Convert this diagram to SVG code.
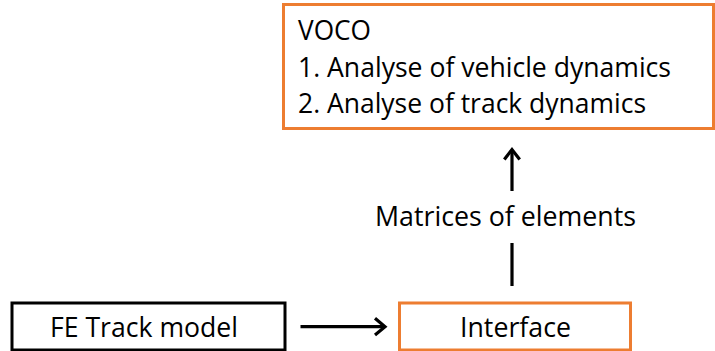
<svg xmlns="http://www.w3.org/2000/svg" width="715" height="351" viewBox="0 0 715 351">
<style>
.box{fill:#fff;stroke-width:3}
.org{stroke:#ED7D31}
.blk{stroke:#000}
text{font-family:"Open Sans","Liberation Sans",sans-serif;font-size:26.5px;fill:#000}
.con{fill:none;stroke:#000;stroke-width:3.2;stroke-linecap:butt;stroke-linejoin:miter}
</style>
<rect width="715" height="351" fill="#fff"/>
<g id="voco">
<rect class="box org" x="283.5" y="4.5" width="430" height="124"/>
<text x="298" y="40" textLength="73" lengthAdjust="spacingAndGlyphs">VOCO</text>
<text x="298" y="76.5" textLength="373" lengthAdjust="spacingAndGlyphs">1. Analyse of vehicle dynamics</text>
<text x="298" y="113" textLength="348" lengthAdjust="spacingAndGlyphs">2. Analyse of track dynamics</text>
</g>
<g id="fe-track-model">
<rect class="box blk" x="12" y="303" width="273" height="47" stroke-width="2.5"/>
<text x="50" y="337" textLength="188" lengthAdjust="spacingAndGlyphs">FE Track model</text>
</g>
<g id="interface">
<rect class="box org" x="399.5" y="303" width="231" height="47" stroke-width="2.5"/>
<text x="460" y="337" textLength="111" lengthAdjust="spacingAndGlyphs">Interface</text>
</g>
<g id="connectors">
<path class="con" d="M300.5 326.7H384"/>
<path class="con" d="M375 318.3L385 326.7L375 335"/>
<path class="con" d="M512 286V243"/>
<path class="con" d="M512 191V150"/>
<path class="con" d="M504.3 159.5L512 149.5L519.7 159.5"/>
<text x="375" y="226" textLength="261" lengthAdjust="spacingAndGlyphs">Matrices of elements</text>
</g>
</svg>
